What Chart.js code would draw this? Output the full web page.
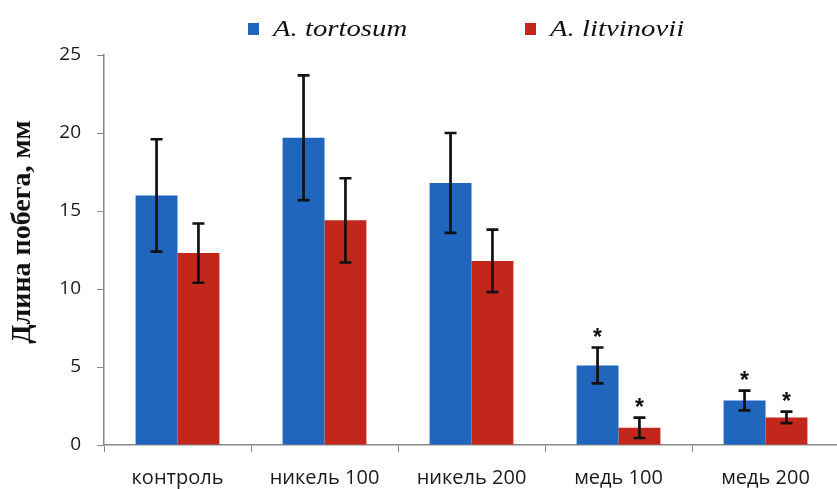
<!DOCTYPE html>
<html>
<head>
<meta charset="utf-8">
<script src="https://cdn.jsdelivr.net/npm/chart.js@4.4.1/dist/chart.umd.min.js"></script>
<style>
  html, body { margin: 0; padding: 0; background: #fff; overflow: hidden; }
  #wrap { width: 840px; height: 489px; }
</style>
</head>
<body>
<div id="wrap"><canvas id="chart" width="840" height="489"></canvas></div>
<script>
// shoot length by treatment, two species
const categories = ['контроль', 'никель 100', 'никель 200', 'медь 100', 'медь 200'];
const tortosum = [16.0, 19.7, 16.8, 5.1, 2.85];
const tortosumErr = [3.6, 4.0, 3.2, 1.15, 0.63];
const tortosumSig = [false, false, false, true, true];
const litvinovii = [12.3, 14.4, 11.8, 1.1, 1.77];
const litvinoviiErr = [1.9, 2.7, 2.0, 0.65, 0.37];
const litvinoviiSig = [false, false, false, true, true];
const yTicks = [0, 5, 10, 15, 20, 25];

const BLUE = '#1f66bc';
const RED = '#c3271b';

// error bars + significance stars, drawn through the scales
const errorBars = {
    id: 'errorBars',
    afterDatasetsDraw(chart) {
        const ctx = chart.ctx;
        const y = chart.scales.y;
        chart.data.datasets.forEach((ds, i) => {
            const meta = chart.getDatasetMeta(i);
            meta.data.forEach((bar, j) => {
                const v = ds.data[j], e = ds.err[j];
                const top = y.getPixelForValue(v + e);
                const bot = y.getPixelForValue(v - e);
                ctx.save();
                ctx.strokeStyle = '#111';
                ctx.lineWidth = 2.7;
                ctx.beginPath();
                ctx.moveTo(bar.x, top); ctx.lineTo(bar.x, bot);
                ctx.moveTo(bar.x - 6, top); ctx.lineTo(bar.x + 6, top);
                ctx.moveTo(bar.x - 6, bot); ctx.lineTo(bar.x + 6, bot);
                ctx.stroke();
                if (ds.sig[j]) {
                    ctx.fillStyle = '#111';
                    ctx.font = 'bold 23px "Liberation Sans"';
                    ctx.textAlign = 'center';
                    ctx.textBaseline = 'alphabetic';
                    ctx.fillText('*', bar.x, top - 3);
                }
                ctx.restore();
            });
        });
    }
};

// legend and y title as in the figure
const decor = {
    id: 'decor',
    afterDraw(chart) {
        const ctx = chart.ctx;
        const area = chart.chartArea;
        ctx.save();
        const items = [[BLUE, 'A. tortosum', 248], [RED, 'A. litvinovii', 525]];
        items.forEach(([col, txt, x]) => {
            ctx.fillStyle = col;
            ctx.fillRect(x, 23, 11, 12);
            ctx.fillStyle = '#111';
            ctx.font = 'italic 23px "Liberation Serif"';
            ctx.textBaseline = 'alphabetic';
            ctx.textAlign = 'left';
            ctx.save();
            ctx.translate(x + 25, 36);
            ctx.scale(1.25, 1);
            ctx.fillText(txt, 0, 0);
            ctx.restore();
        });
        ctx.translate(23, (area.top + area.bottom) / 2 - 18);
        ctx.rotate(-Math.PI / 2);
        ctx.font = 'bold 28px "Liberation Serif"';
        ctx.textAlign = 'center';
        ctx.textBaseline = 'middle';
        ctx.fillStyle = '#111';
        ctx.fillText('Длина побега, мм', 0, 0);
        ctx.restore();
    }
};

new Chart(document.getElementById('chart'), {
    type: 'bar',
    data: {
        labels: categories,
        datasets: [
            { label: 'A. tortosum', data: tortosum, err: tortosumErr, sig: tortosumSig, backgroundColor: BLUE },
            { label: 'A. litvinovii', data: litvinovii, err: litvinoviiErr, sig: litvinoviiSig, backgroundColor: RED }
        ]
    },
    options: {
        responsive: false,
        animation: false,
        devicePixelRatio: 1,
        layout: { padding: { top: 55, right: 1, left: 0, bottom: 0 } },
        datasets: { bar: { barPercentage: 1, categoryPercentage: 0.57 } },
        plugins: { legend: { display: false }, tooltip: { enabled: false } },
        scales: {
            x: {
                grid: { display: true, drawOnChartArea: false, color: '#888', tickLength: 7, offset: true },
                border: { color: '#888', width: 1.5 },
                ticks: { color: '#1a1a1a', font: { family: 'Open Sans', size: 20 }, padding: 14 },
                afterFit: s => { s.height = 44; }
            },
            y: {
                min: 0, max: 25,
                afterBuildTicks: s => { s.ticks = yTicks.map(v => ({ value: v })); },
                grid: { display: true, drawOnChartArea: false, color: '#888', tickLength: 7 },
                border: { color: '#888', width: 1.5 },
                ticks: { color: '#1a1a1a', font: { family: 'Open Sans', size: 19 }, padding: 16 },
                afterFit: s => { s.width = 104; }
            }
        }
    },
    plugins: [errorBars, decor]
});
</script>
</body>
</html>
